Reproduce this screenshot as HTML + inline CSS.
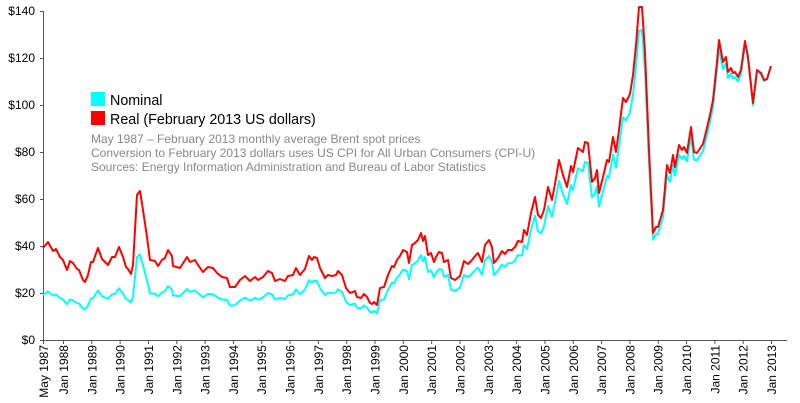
<!DOCTYPE html>
<html><head><meta charset="utf-8"><style>
html,body{margin:0;padding:0;background:#fff;}
svg{display:block;font-family:"Liberation Sans",sans-serif;}
</style></head><body>
<svg id="s" width="800" height="403" viewBox="0 0 800 403">
<g font-size="12" fill="#000" text-anchor="end">
<text x="35" y="344">$0</text><text x="35" y="297">$20</text><text x="35" y="250">$40</text>
<text x="35" y="203">$60</text><text x="35" y="156">$80</text><text x="35" y="109">$100</text>
<text x="35" y="62">$120</text><text x="35" y="15">$140</text>
</g>
<g stroke="#555" stroke-width="1">
<line x1="43.5" y1="11" x2="43.5" y2="340"/><line x1="43" y1="340.5" x2="787" y2="340.5"/>
<line x1="40" y1="340.5" x2="44" y2="340.5"/><line x1="40" y1="293.5" x2="44" y2="293.5"/>
<line x1="40" y1="246.5" x2="44" y2="246.5"/><line x1="40" y1="199.5" x2="44" y2="199.5"/>
<line x1="40" y1="152.5" x2="44" y2="152.5"/><line x1="40" y1="105.5" x2="44" y2="105.5"/>
<line x1="40" y1="58.5" x2="44" y2="58.5"/><line x1="40" y1="11.5" x2="44" y2="11.5"/>
</g>
<g id="xt"></g>
<polyline id="cy" fill="none" stroke="#00ffff" stroke-width="2" stroke-linejoin="round"/>
<polyline id="rd" fill="none" stroke="#ff0000" stroke-width="2" stroke-linejoin="round"/>
<rect x="91" y="92" width="14" height="14" fill="#00ffff"/>
<rect x="91" y="111" width="14" height="14" fill="#ff0000"/>
<text x="110" y="105" font-size="14.3">Nominal</text>
<text x="110" y="124" font-size="14.3">Real (February 2013 US dollars)</text>
<g font-size="12" fill="#888">
<text x="91" y="143">May 1987 – February 2013 monthly average Brent spot prices</text>
<text x="91" y="157">Conversion to February 2013 dollars uses US CPI for All Urban Consumers (CPI-U)</text>
<text x="91" y="171">Sources: Energy Information Administration and Bureau of Labor Statistics</text>
</g>
</svg>
<script>
var r=[43,248,48,242,53,251,56,249,60,257,63,260,67,270,70,261,73,263,77,269,79,270,83,280,85,282,88,275,91,262,93,262,98,248,102,259,105,262,108,265,112,257,115,257,119,247,123,257,126,267,128,269,131,274,133,265,137,195,140,191,143,210,147,237,150,260,155,261,158,266,162,260,165,258,168,250,172,256,173,266,180,268,187,257,190,262,195,260,198,265,203,272,208,267,213,268,217,273,222,277,227,278,230,287,235,287,240,280,245,276,250,281,255,277,258,280,263,277,268,271,272,273,275,281,280,279,285,281,288,276,293,275,296,268,300,275,305,269,309,256,312,260,314,257,317,258,320,268,325,278,328,275,332,276,336,275,338,271,342,275,346,288,350,293,355,291,357,297,361,298,364,294,367,297,370,303,372,304,374,302,377,305,380,288,384,287,388,275,392,266,394,267,397,260,400,256,403,250,407,252,409,263,412,245,415,243,418,240,421,233,423,241,425,236,428,255,431,253,434,262,436,257,439,252,442,253,444,262,448,260,451,278,455,280,460,276,464,261,468,264,472,260,476,255,478,253,482,262,485,245,489,240,492,247,494,263,498,258,502,251,505,254,508,250,512,250,515,247,518,241,522,242,524,230,527,235,531,213,535,197,538,215,541,218,544,210,548,187,552,200,555,184,559,160,563,175,567,187,571,166,573,172,578,148,583,152,585,142,588,143,592,182,595,178,597,170,599,193,603,177,607,160,609,162,613,137,616,152,619,130,623,98,626,102,630,94,633,75,636,45,639,7,642,7,645,52,649,150,653,233,656,227,658,227,663,210,667,165,670,173,673,155,675,167,679,145,682,150,684,147,687,153,691,127,694,152,697,153,703,144,706,132,710,115,713,100,717,62,719,40,723,62,726,57,728,72,731,68,733,73,735,72,738,77,741,70,745,41,748,57,753,103,757,70,761,73,764,80,767,79,771,66];
var rp=[],cp=[];
for(var i=0;i<r.length;i+=2){var x=r[i],y=r[i+1];rp.push(x+","+y);
var t=(x-43)/(771-43);var f=0.49+0.51*Math.pow(t,1.0)+0.04*Math.sin(Math.PI*t);if(f>1)f=1;
var v=(340-y)*f;cp.push(x+","+(340-v).toFixed(1));}
document.getElementById("rd").setAttribute("points",rp.join(" "));
document.getElementById("cy").setAttribute("points",cp.join(" "));
var xt=document.getElementById("xt"),ns="http://www.w3.org/2000/svg";
function tick(x,lab){var l=document.createElementNS(ns,"line");l.setAttribute("x1",x);l.setAttribute("x2",x);l.setAttribute("y1",340);l.setAttribute("y2",344);l.setAttribute("stroke","#555");xt.appendChild(l);
var tx=document.createElementNS(ns,"text");tx.setAttribute("transform","translate("+(x+4.5)+",345) rotate(-90)");tx.setAttribute("text-anchor","end");tx.setAttribute("font-size","12");tx.textContent=lab;xt.appendChild(tx);}
tick(43.5,"May 1987");
for(var y=1988;y<=2013;y++){tick(63.5+(y-1988)*28.32,"Jan "+y);}
</script>
</body></html>
